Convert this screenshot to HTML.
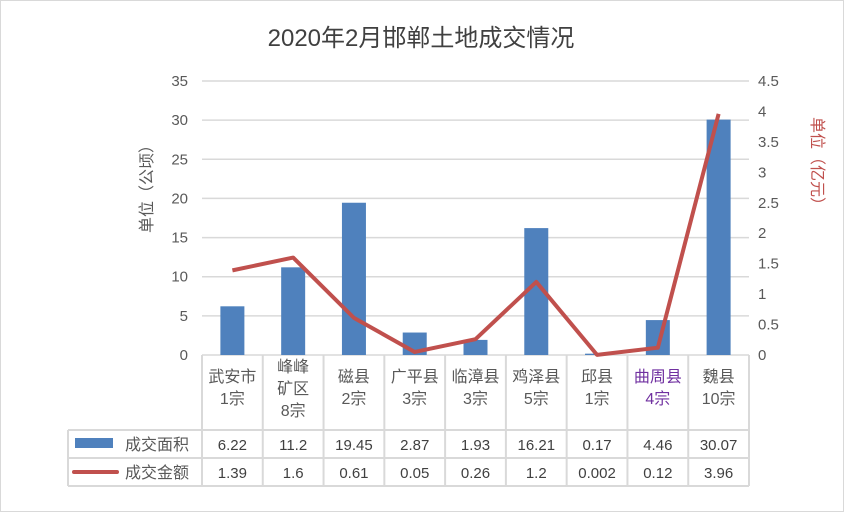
<!DOCTYPE html>
<html><head><meta charset="utf-8"><style>
body{margin:0;background:#fff}
svg text{font-family:"Liberation Sans","Noto Sans CJK SC",sans-serif}
</style></head><body>
<svg width="844" height="512" xmlns="http://www.w3.org/2000/svg">
<rect x="0.5" y="0.5" width="843" height="511" fill="#fff" stroke="#d9d9d9"/>
<text x="421" y="46" text-anchor="middle" font-size="24" fill="#404040">2020年2月邯郸土地成交情况</text>
<g id="grid"></g><g id="bars"></g><g id="line"></g><g id="axes"></g><g id="table"></g>
<text transform="translate(152,185) rotate(-90)" text-anchor="middle" font-size="16" fill="#595959" font-family="Noto Serif CJK SC,serif">单位（公顷）</text>
<text transform="translate(812,165) rotate(90)" text-anchor="middle" font-size="16" fill="#c0504d" font-family="Noto Serif CJK SC,serif">单位（亿元）</text>
</svg>
<script>
const categories=[["武安市","1宗"],["峰峰","矿区","8宗"],["磁县","2宗"],["广平县","3宗"],["临漳县","3宗"],["鸡泽县","5宗"],["邱县","1宗"],["曲周县","4宗"],["魏县","10宗"]];
const areaValues=[6.22,11.2,19.45,2.87,1.93,16.21,0.17,4.46,30.07];
const amountValues=[1.39,1.6,0.61,0.05,0.26,1.2,0.002,0.12,3.96];
const leftTicks=[0,5,10,15,20,25,30,35];
const rightTicks=["0","0.5","1","1.5","2","2.5","3","3.5","4","4.5"];
const NS="http://www.w3.org/2000/svg";
const X0=202,X1=749,Y0=355,Y1=81,n=categories.length,bw=(X1-X0)/n;
const yL=v=>Y0-(v/35)*(Y0-Y1);
const yR=v=>Y0-(v/4.5)*(Y0-Y1);
const xC=i=>X0+bw*(i+0.5);
function mk(p,tag,attrs,txt){const e=document.createElementNS(NS,tag);for(const k in attrs)e.setAttribute(k,attrs[k]);if(txt!=null)e.textContent=txt;document.getElementById(p).appendChild(e);return e;}
leftTicks.forEach(t=>{
  const g=mk('grid','line',{x1:X0,x2:X1,y1:yL(t),y2:yL(t),stroke:'#d9d9d9','stroke-width':1.5});
  
  
  const l=mk('axes','text',{x:X0-14,y:yL(t)+5,'text-anchor':'end','font-size':15,fill:'#595959'},t);
  
  
});
rightTicks.forEach(t=>{
  const l=mk('axes','text',{x:X1+9,y:yR(+t)+5,'font-size':15,fill:'#595959'},t);
  
  
});
areaValues.forEach((v,i)=>{
  const b=mk('bars','rect',{x:xC(i)-12,y:yL(v),width:24,height:Y0-yL(v),fill:'#4f81bd'});
  
  
});
const pl=mk('line','polyline',{points:amountValues.map((v,i)=>xC(i)+','+yR(v)).join(' '),fill:'none',stroke:'#c0504d','stroke-width':4,'stroke-linejoin':'round'});


// table
const T0=68,R1=430,R2=458,R3=486;
const tl=[[X0,Y0,X0,R3],[T0,R1,X1,R1],[T0,R2,X1,R2],[T0,R3,X1,R3],[T0,R1,T0,R3]];
for(let i=1;i<=n;i++)tl.push([X0+bw*i,Y0,X0+bw*i,R3]);
tl.forEach(a=>{
  const l=mk('table','line',{x1:a[0],y1:a[1],x2:a[2],y2:a[3],stroke:'#d9d9d9','stroke-width':2});
  
  
});
categories.forEach((c,i)=>{
  const st=c.length===3?372:382;
  c.forEach((s,j)=>{
    const t=mk('table','text',{x:xC(i),y:st+j*22,'text-anchor':'middle','font-size':16,fill:i===7?'#7030a0':'#595959','font-family':'Liberation Sans,Noto Serif CJK SC,serif'},s);
    
    
  });
  const a=mk('table','text',{x:xC(i),y:450,'text-anchor':'middle','font-size':15,fill:'#404040'},areaValues[i]);
  
  
  const b=mk('table','text',{x:xC(i),y:478,'text-anchor':'middle','font-size':15,fill:'#404040'},amountValues[i]);
  
  
});
const k1=mk('table','rect',{x:75,y:438,width:38,height:10,fill:'#4f81bd'});


const k2=mk('table','line',{x1:74,y1:472,x2:117,y2:472,stroke:'#c0504d','stroke-width':4,'stroke-linecap':'round'});


const t1=mk('table','text',{x:125,y:450,'font-size':16,fill:'#595959','font-family':'Noto Serif CJK SC,serif'},'成交面积');


const t2=mk('table','text',{x:125,y:478,'font-size':16,fill:'#595959','font-family':'Noto Serif CJK SC,serif'},'成交金额');


</script>
</body></html>
